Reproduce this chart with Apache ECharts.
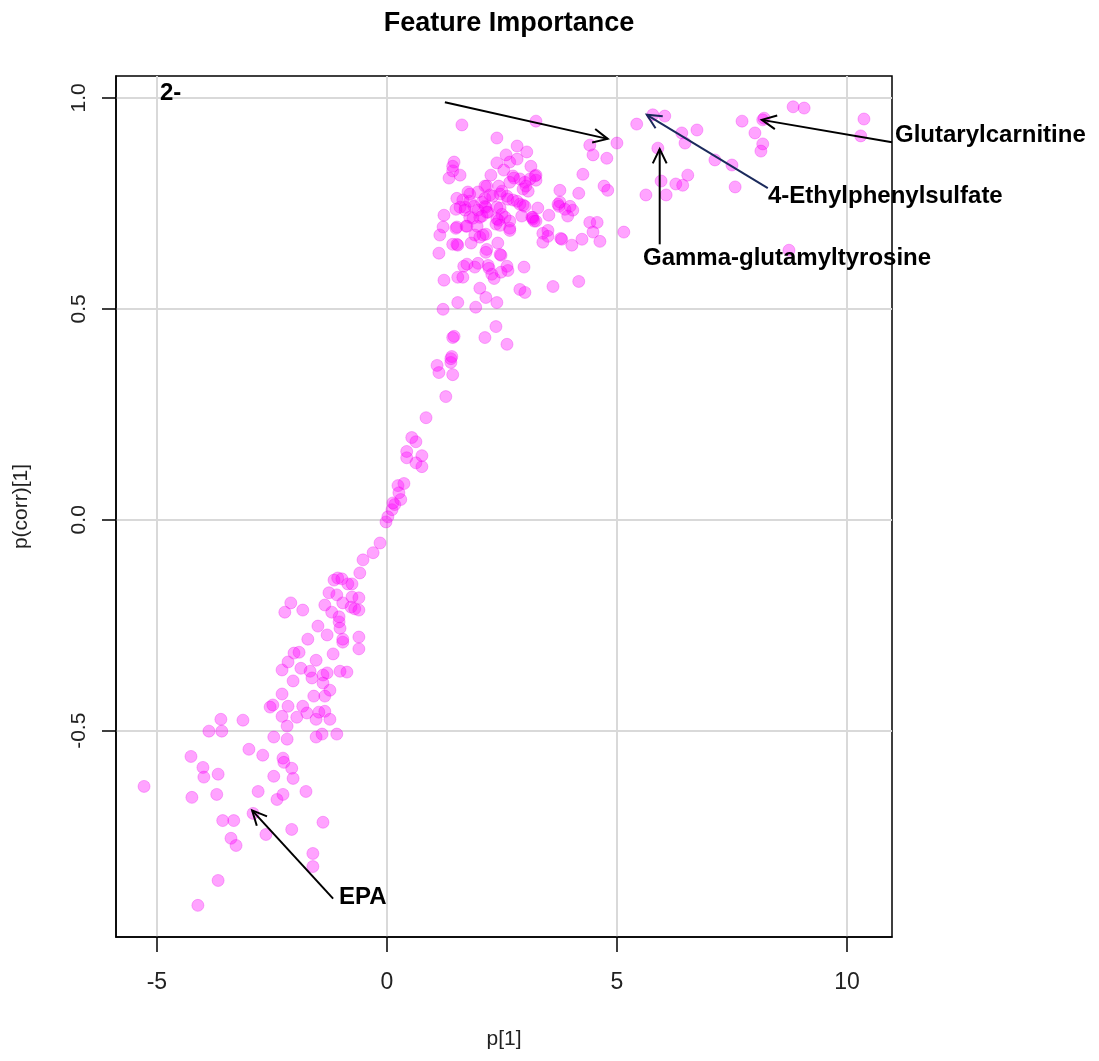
<!DOCTYPE html>
<html>
<head>
<meta charset="utf-8">
<script src="https://cdn.jsdelivr.net/npm/echarts@6/dist/echarts.min.js"></script>
<style>html,body{margin:0;padding:0;background:#fff}#c{width:1099px;height:1061px}</style>
</head>
<body>
<div id="c"></div>
<script>
// Loadings p[1]
const p1 = [
-5.28,-4.11,-3.67,-4.26,-4.00,-3.98,-3.67,-4.24,-3.70,-3.87,-3.59,-3.61,-3.13,-3.00,-2.70,-3.57,-3.33,-3.39,-3.28,-2.91,
-2.80,-2.63,-2.46,-2.39,-2.26,-2.26,-2.24,-2.07,-2.04,-1.76,-2.07,-1.39,-1.61,-1.61,-2.46,-2.17,-1.54,-1.41,-1.09,
-2.28,-2.17,-2.54,-2.48,-2.28,-2.15,-1.96,-1.83,-1.74,-1.54,-1.48,-1.35,-1.24,-1.59,-1.35,-1.24,-2.04,-2.28,-2.15,-1.87,
-1.67,-1.63,-1.39,-1.30,-1.39,-1.02,-0.87,-2.02,-1.91,-1.54,-1.17,-1.72,-1.30,-0.96,-0.96,-0.61,-0.61,-1.50,-1.04,-1.02,
-1.04,-2.22,-2.09,-1.83,-1.35,-1.20,-1.26,-1.09,-0.96,-0.76,-0.78,-0.70,-0.61,-0.61,-1.15,-1.07,-0.98,-0.85,-0.76,-0.59,-0.52,
-0.30,-0.15,-0.02,0.02,0.11,0.17,0.13,0.30,0.26,0.24,0.37,0.76,0.76,0.63,0.43,0.43,0.63,0.54,0.85,1.28,1.43,1.39,1.39,1.13,1.09,1.46,
1.63,3.24,2.39,4.41,4.48,4.78,5.00,5.43,5.89,5.96,5.63,5.15,4.26,4.72,4.80,4.17,3.76,1.46,1.43,1.43,1.35,1.59,
2.83,3.04,2.59,2.39,2.67,2.83,3.13,2.54,3.24,3.24,2.26,2.74,2.89,3.00,2.96,3.07,2.43,2.50,2.17,1.98,1.80,1.52,1.65,
2.13,2.30,2.61,2.74,2.83,2.96,3.28,3.76,3.74,3.98,4.04,3.52,3.93,1.70,1.89,2.13,2.20,2.46,2.50,2.67,2.93,3.15,3.20,
1.24,1.80,2.02,1.22,1.15,1.52,1.72,1.96,1.91,2.09,2.37,2.43,2.67,2.41,2.15,2.48,3.39,3.50,3.78,3.39,4.02,4.24,4.41,4.57,
4.48,4.63,1.52,1.83,1.13,1.67,1.98,1.91,2.22,2.28,2.33,2.63,2.98,2.48,1.24,1.54,1.65,2.02,2.15,2.39,2.89,3.00,3.61,4.17,
1.54,1.93,1.22,2.37,2.13,2.61,1.43,1.41,
2.76,3.02,2.67,2.13,2.46,2.24,1.76,1.80,2.07,2.15,1.59,1.50,1.70,1.98,2.17,2.39,2.63,2.89,3.00,2.57,3.17,1.87,2.07,2.39,
2.46,2.67,1.50,1.74,2.02,2.15,3.50,1.43,1.54,2.17,2.46,1.74,2.20,2.61,
3.11,3.22,3.17,3.24,3.72,3.87,3.80,
5.78,6.04,6.41,6.48,6.74,6.28,6.43,6.54,6.07,7.13,7.50,7.57,7.72,8.17,8.20,8.00,8.17,8.13,8.83,9.07,8.74,10.37,10.30
];
// Correlation-scaled loadings p(corr)[1]
const pcorr = [
-0.632,-0.914,-0.855,-0.561,-0.587,-0.610,-0.603,-0.658,-0.651,-0.501,-0.501,-0.473,-0.475,-0.544,-0.558,-0.713,-0.713,-0.755,-0.772,-0.696,
-0.644,-0.746,-0.608,-0.663,-0.651,-0.565,-0.575,-0.589,-0.613,-0.644,-0.734,-0.717,-0.791,-0.822,-0.515,-0.520,-0.515,-0.508,-0.508,
-0.466,-0.489,-0.444,-0.439,-0.413,-0.442,-0.468,-0.442,-0.458,-0.473,-0.456,-0.454,-0.473,-0.418,-0.418,-0.404,-0.382,-0.356,-0.337,-0.352,
-0.359,-0.375,-0.368,-0.363,-0.387,-0.359,-0.361,-0.316,-0.314,-0.333,-0.318,-0.283,-0.273,-0.290,-0.283,-0.278,-0.306,-0.252,-0.242,-0.257,
-0.230,-0.219,-0.197,-0.214,-0.202,-0.219,-0.173,-0.178,-0.197,-0.183,-0.207,-0.211,-0.185,-0.214,-0.143,-0.138,-0.140,-0.152,-0.152,-0.126,-0.095,
-0.078,-0.055,-0.005,0.007,0.024,0.036,0.040,0.048,0.064,0.081,0.086,0.126,0.152,0.135,0.147,0.162,0.185,0.195,0.242,0.292,0.344,0.373,0.382,0.349,0.366,0.435,
0.936,0.945,0.905,0.888,0.865,0.857,0.893,0.938,0.881,0.803,0.770,0.682,0.819,0.791,0.781,0.774,0.781,0.848,0.838,0.827,0.810,0.817,
0.886,0.872,0.865,0.846,0.848,0.855,0.838,0.829,0.817,0.805,0.817,0.815,0.808,0.800,0.784,0.779,0.791,0.779,0.791,0.777,0.772,0.762,0.758,
0.762,0.767,0.767,0.758,0.755,0.746,0.739,0.753,0.743,0.743,0.734,0.722,0.720,0.741,0.743,0.743,0.729,0.739,0.724,0.708,0.720,0.717,0.708,
0.722,0.717,0.717,0.694,0.675,0.694,0.696,0.696,0.675,0.675,0.701,0.710,0.686,0.656,0.634,0.627,0.679,0.686,0.667,0.658,0.651,0.665,0.705,0.705,
0.682,0.660,0.653,0.656,0.632,0.601,0.608,0.599,0.596,0.582,0.572,0.591,0.599,0.587,0.568,0.575,0.575,0.549,0.527,0.515,0.546,0.539,0.553,0.565,
0.515,0.504,0.499,0.458,0.432,0.416,0.432,0.387,
0.810,0.791,0.800,0.791,0.772,0.770,0.777,0.755,0.753,0.741,0.741,0.736,0.734,0.734,0.729,0.741,0.760,0.748,0.743,0.717,0.713,0.715,0.720,0.713,
0.698,0.691,0.691,0.696,0.670,0.677,0.672,0.653,0.651,0.641,0.629,0.606,0.603,0.601,
0.808,0.815,0.717,0.708,0.748,0.736,0.665,
0.960,0.957,0.917,0.893,0.924,0.796,0.793,0.817,0.770,0.853,0.841,0.789,0.945,0.948,0.952,0.917,0.891,0.874,0.979,0.976,0.639,0.950,0.910
];

// Axis ticks
const xTicks = [-5, 0, 5, 10];
const yTicks = [-0.5, 0, 0.5, 1.0];

// Annotation arrows: [fromX, fromY, toX, toY]
const arrowFromX = [1.26, 10.98, 8.28, 5.93, -1.17];
const arrowFromY = [0.990, 0.895, 0.786, 0.653, -0.898];
const arrowToX   = [4.80, 8.15, 5.65, 5.93, -2.93];
const arrowToY   = [0.903, 0.948, 0.960, 0.879, -0.689];
const arrowColors = ['#000000', '#000000', '#1b2a5c', '#000000', '#000000'];

// Annotation labels
const labelTexts = ['2-', 'Glutarylcarnitine', '4-Ethylphenylsulfate', 'Gamma-glutamyltyrosine', 'EPA'];

const points = p1.map((v, i) => [v, pcorr[i]]);
const arrows = arrowFromX.map((v, i) => [v, arrowFromY[i], arrowToX[i], arrowToY[i]]);

const chart = echarts.init(document.getElementById('c'), null, {renderer: 'canvas'});
const labelFont = 'bold 24px "Liberation Sans", Arial, sans-serif';
const labelPos = [[160, 93], [895, 135], [768, 196], [643, 258], [339, 897]];

chart.setOption({
  backgroundColor: '#ffffff',
  animation: false,
  title: {
    text: 'Feature Importance',
    left: 504,
    textAlign: 'center',
    top: 5,
    textStyle: {fontFamily: 'Liberation Sans', fontWeight: 'bold', fontSize: 27, color: '#000'}
  },
  grid: {
    left: 116, right: 207, top: 76, bottom: 124,
    show: true, borderColor: '#000', borderWidth: 1.5, backgroundColor: 'transparent'
  },
  xAxis: {
    type: 'value',
    min: -5.89, max: 10.98,
    name: 'p[1]', nameLocation: 'middle', nameGap: 92,
    nameTextStyle: {fontFamily: 'Liberation Sans', fontSize: 21, color: '#222'},
    axisLine: {show: true, onZero: false, lineStyle: {color: '#000', width: 1.5}},
    axisTick: {show: true, length: 15, customValues: xTicks, lineStyle: {color: '#000', width: 1.5}},
    axisLabel: {customValues: xTicks, margin: 34, fontFamily: 'Liberation Sans', fontSize: 23, color: '#222',
      formatter: v => String(v)},
    splitLine: {show: true, lineStyle: {color: '#d9d9d9', width: 2}}
  },
  yAxis: {
    type: 'value',
    min: -0.989, max: 1.052,
    name: 'p(corr)[1]', nameLocation: 'middle', nameGap: 84, nameRotate: 90,
    nameTextStyle: {fontFamily: 'Liberation Sans', fontSize: 21, color: '#222'},
    axisLine: {show: true, onZero: false, lineStyle: {color: '#000', width: 1.5}},
    axisTick: {show: true, length: 14, customValues: yTicks, lineStyle: {color: '#000', width: 1.5}},
    axisLabel: {customValues: yTicks, rotate: 90, margin: 26, fontFamily: 'Liberation Sans', fontSize: 21, color: '#222',
      formatter: v => v.toFixed(1)},
    splitLine: {show: true, lineStyle: {color: '#d9d9d9', width: 2}}
  },
  series: [
    {
      type: 'scatter',
      data: points,
      symbol: 'circle',
      symbolSize: 12,
      itemStyle: {color: 'rgba(255,0,255,0.45)', borderColor: 'rgba(235,0,235,0.35)', borderWidth: 1},
      z: 2
    },
    {
      type: 'custom',
      data: arrows,
      z: 5,
      clip: false,
      renderItem: function (params, api) {
        const s = api.coord([api.value(0), api.value(1)]);
        const e = api.coord([api.value(2), api.value(3)]);
        const ang = Math.atan2(e[1] - s[1], e[0] - s[0]);
        const L = 16, A = Math.PI / 7;
        const h1 = [e[0] - L * Math.cos(ang - A), e[1] - L * Math.sin(ang - A)];
        const h2 = [e[0] - L * Math.cos(ang + A), e[1] - L * Math.sin(ang + A)];
        const color = arrowColors[params.dataIndex];
        return {
          type: 'group',
          children: [
            {type: 'line', shape: {x1: s[0], y1: s[1], x2: e[0], y2: e[1]}, style: {stroke: color, lineWidth: 2}},
            {type: 'polyline', shape: {points: [h1, e, h2]}, style: {stroke: color, lineWidth: 2, fill: null}}
          ]
        };
      }
    }
  ],
  graphic: labelTexts.map((t, i) => ({
    type: 'text', x: labelPos[i][0], y: labelPos[i][1], z: 10,
    style: {text: t, font: labelFont, fill: '#000', align: 'left', verticalAlign: 'middle'}
  }))
});
</script>
</body>
</html>
